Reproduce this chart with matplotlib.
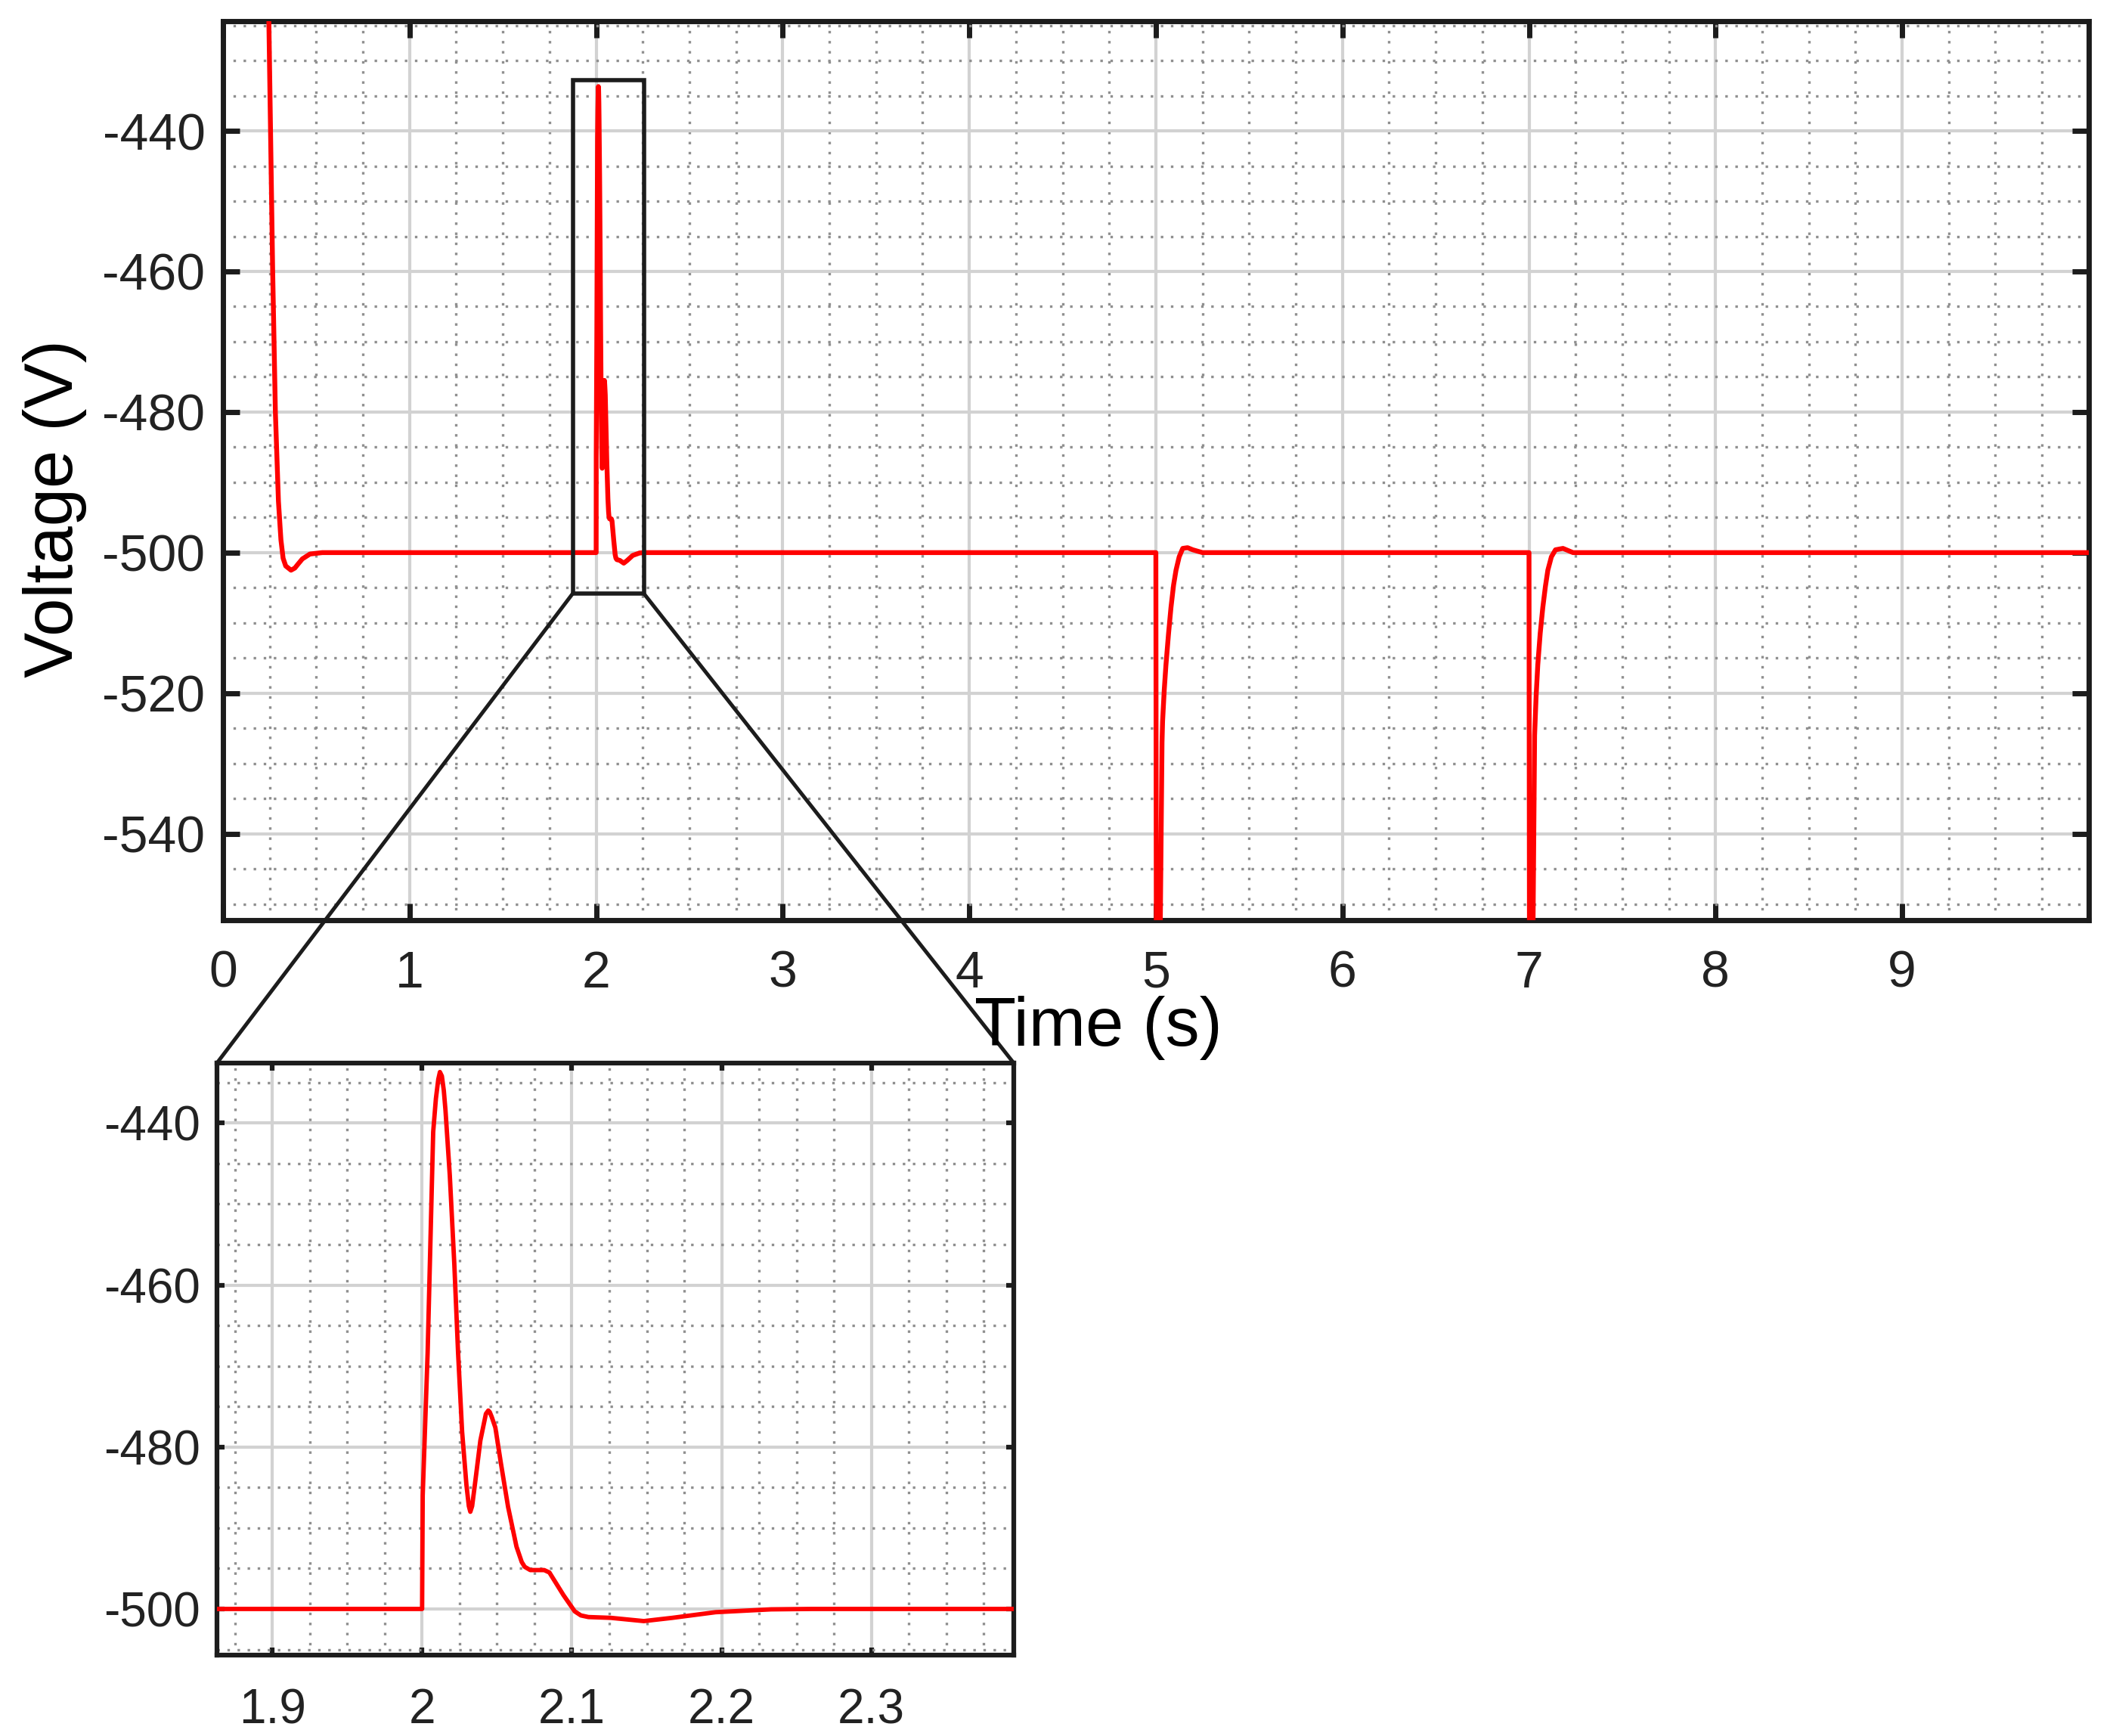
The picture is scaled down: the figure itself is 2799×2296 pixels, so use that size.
import matplotlib
matplotlib.use('Agg')
import matplotlib.pyplot as plt
from matplotlib.ticker import MultipleLocator
from matplotlib.patches import Rectangle, ConnectionPatch

plt.rcParams['font.family'] = ['Liberation Sans', 'DejaVu Sans']
plt.rcParams['axes.unicode_minus'] = False

# Time (s) and voltage (V)
TIME = [0.235, 0.2457, 0.266, 0.2807, 0.297, 0.3104, 0.322, 0.336, 0.3644, 0.385, 0.40, 0.425, 0.466, 0.532,
        2.000, 2.0004, 2.0037, 2.0074, 2.0092, 2.0108, 2.0119, 2.0132, 2.0145, 2.0156, 2.0185, 2.0215,
        2.0240, 2.0267, 2.0296, 2.0312, 2.0322, 2.0334, 2.0352, 2.0389, 2.0426, 2.0442, 2.0452, 2.0465,
        2.0489, 2.0526, 2.0574, 2.0630, 2.0665, 2.0685, 2.0722, 2.0815, 2.0850, 2.0870, 2.0944, 2.1019,
        2.1060, 2.1110, 2.1260, 2.1480, 2.1670, 2.1960, 2.2330, 2.2600,
        5.000, 5.003, 5.008, 5.015, 5.024, 5.033, 5.036, 5.045, 5.054, 5.068, 5.081, 5.095,
        5.108, 5.125, 5.144, 5.170, 5.198, 5.250,
        7.000, 7.003, 7.008, 7.015, 7.022, 7.030, 7.038, 7.047, 7.060, 7.074, 7.088, 7.101,
        7.120, 7.142, 7.182, 7.236, 10.0]
VOLTAGE = [-404.0, -424.4, -459.8, -480.1, -492.7, -498.2, -500.8, -501.9, -502.5, -502.2, -501.7, -500.9, -500.2, -500.0,
           -500.0, -486.0, -468.3, -441.1, -437.0, -434.6, -433.7, -434.2, -436.0, -438.4, -446.5, -457.4,
           -468.3, -478.1, -484.7, -487.3, -488.0, -487.3, -484.7, -479.2, -475.9, -475.5, -475.7, -476.3,
           -477.6, -482.0, -487.4, -492.3, -494.2, -494.8, -495.2, -495.2, -495.5, -496.1, -498.3, -500.3,
           -500.8, -501.0, -501.1, -501.5, -501.1, -500.4, -500.05, -500.0,
           -500.0, -570.0, -590.0, -580.0, -552.0, -527.0, -524.0, -519.5, -516.0, -511.5, -507.8, -504.6,
           -502.5, -500.6, -499.4, -499.3, -499.6, -500.0,
           -500.0, -570.0, -590.0, -580.0, -552.0, -526.0, -520.5, -516.0, -511.5, -507.8, -504.8, -502.5,
           -500.6, -499.6, -499.4, -500.0, -500.0]

MAIN_XTICKS = [0, 1, 2, 3, 4, 5, 6, 7, 8, 9]
MAIN_YTICKS = [-540, -520, -500, -480, -460, -440]
ZOOM_XTICKS = [1.9, 2.0, 2.1, 2.2, 2.3]
ZOOM_XLABELS = ['1.9', '2', '2.1', '2.2', '2.3']
ZOOM_YTICKS = [-500, -480, -460, -440]

ZOOM_T = (1.875, 2.255)
ZOOM_V = (-505.8, -432.8)

EDGE = '#1c1c1c'


def style_axes(ax, xminor, yminor, ticklen, labelsize, xpad, ypad, spine_w):
    ax.xaxis.set_minor_locator(MultipleLocator(xminor))
    ax.yaxis.set_minor_locator(MultipleLocator(yminor))
    ax.grid(which='major', color='#d2d2d2', linewidth=3.0, linestyle='-')
    ax.grid(which='minor', color='#8f8f8f', linewidth=2.4, linestyle=(0, (1, 3.0)))
    ax.set_axisbelow(True)
    ax.tick_params(which='major', direction='in', top=True, right=True,
                   length=ticklen, width=spine_w, color=EDGE,
                   labelsize=labelsize, labelcolor='#222222')
    ax.tick_params(axis='x', which='major', pad=xpad)
    ax.tick_params(axis='y', which='major', pad=ypad)
    ax.tick_params(which='minor', length=0)
    for s in ax.spines.values():
        s.set_linewidth(spine_w)
        s.set_color(EDGE)


fig = plt.figure(figsize=(27.99, 22.96), dpi=100)

ax = fig.add_axes([0.1054, 0.4699, 0.8817, 0.5179])
ax.plot(TIME, VOLTAGE, color='#ff0000', linewidth=4.6, zorder=3,
        solid_joinstyle='round', solid_capstyle='round')
ax.set_xlim(0, 10)
ax.set_ylim(-552.3, -424.4)
ax.set_xticks(MAIN_XTICKS)
ax.set_yticks(MAIN_YTICKS)
style_axes(ax, 0.25, 5, 16, 49, 28, 17, 5)

ax.add_patch(Rectangle((ZOOM_T[0], ZOOM_V[0]), ZOOM_T[1] - ZOOM_T[0], ZOOM_V[1] - ZOOM_V[0],
                       fill=False, edgecolor=EDGE, linewidth=4, zorder=4))

axin = fig.add_axes([0.1025, 0.0466, 0.3766, 0.341])
axin.plot(TIME, VOLTAGE, color='#ff0000', linewidth=4.2, zorder=3,
          solid_joinstyle='round', solid_capstyle='round')
axin.set_xlim(1.863, 2.395)
axin.set_ylim(-505.7, -432.6)
axin.set_xticks(ZOOM_XTICKS)
axin.set_xticklabels(ZOOM_XLABELS)
axin.set_yticks(ZOOM_YTICKS)
style_axes(axin, 0.025, 5, 7, 46, 31, 16, 4.5)

for corner_t, corner_x in [(ZOOM_T[0], 0), (ZOOM_T[1], 1)]:
    con = ConnectionPatch(xyA=(corner_t, ZOOM_V[0]), coordsA=ax.transData,
                          xyB=(corner_x, 1), coordsB=axin.transAxes,
                          color=EDGE, linewidth=3.6)
    fig.add_artist(con)

fig.text(0.026, 0.707, 'Voltage (V)', rotation=90, ha='center', va='center',
         fontsize=65, color='black')
fig.text(0.519, 0.4077, 'Time (s)', ha='center', va='center',
         fontsize=65, color='black')

fig.savefig('out.png', dpi=100, facecolor='white')
